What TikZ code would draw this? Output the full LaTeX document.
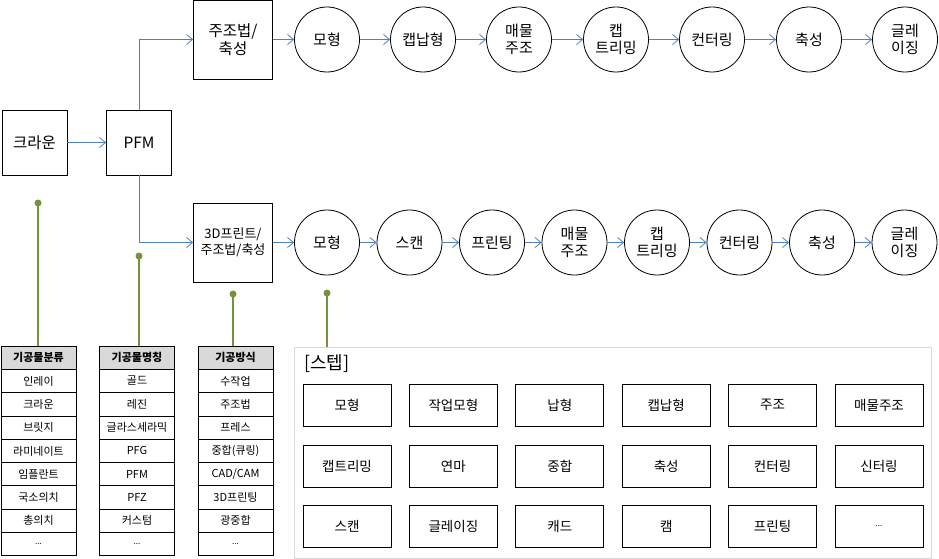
\documentclass[tikz,border=0pt]{standalone}
\usepackage{fontspec}
\setmainfont{Noto Sans CJK KR}
\usetikzlibrary{arrows.meta}

\definecolor{flowblue}{RGB}{79,129,189}
\definecolor{pingreen}{RGB}{118,146,60}
\definecolor{headgray}{RGB}{217,217,217}
\definecolor{framegray}{RGB}{217,217,217}
\newcommand{\etcdots}{{\footnotesize...}}

\begin{document}
\begin{tikzpicture}
    [
        x=1pt, y=-1pt,
        box/.style={draw, line width=0.8pt, minimum width=65pt, minimum height=65pt, inner sep=0pt, align=center, font=\fontsize{15.5}{18}\selectfont},
        stage/.style={box, minimum width=79pt, minimum height=79pt},
        vertex/.style={circle, draw, line width=0.8pt, minimum size=65pt, inner sep=0pt, align=center, font=\fontsize{15}{17.5}\selectfont},
        flow/.style={draw=flowblue, line width=0.8pt, -{Straight Barb[length=6pt,width=10pt]}},
        pin/.style={draw=pingreen, line width=1.8pt},
        dot/.style={circle, fill=pingreen, minimum size=7pt, inner sep=0pt},
        cell/.style={draw, line width=0.8pt, minimum width=75pt, minimum height=23.3pt, inner sep=0pt, font=\fontsize{11}{13}\selectfont},
        head/.style={cell, fill=headgray, font=\fontsize{11}{13}\selectfont\bfseries},
        stepbox/.style={draw, line width=0.8pt, minimum width=88pt, minimum height=42pt, inner sep=0pt, font=\fontsize{13.5}{16}\selectfont},
    ]
    \useasboundingbox (0,0) rectangle (939,559);

    % start
    \node (crown) at (34.5,142.5) [box] {크라운};
    \node (pfm)   at (139,142.5)  [box] {PFM};
    \node (cast)  at (233,39.5)   [stage] {주조법/\\축성};
    \node (print) at (233,242.5)  [stage, font=\fontsize{13}{16}\selectfont] {3D프린트/\\주조법/축성};

    \path [flow] (crown) -- (pfm);
    \path [flow] (pfm.north) |- (cast.west);
    \path [flow] (pfm.south) |- (print.west);

    % casting row
    \node (a1) at (327,39.5) [vertex] {모형};
    \node (a2) at (423,39.5) [vertex] {캡납형};
    \node (a3) at (519,39.5) [vertex] {매물\\주조};
    \node (a4) at (616,39.5) [vertex] {캡\\트리밍};
    \node (a5) at (712,39.5) [vertex] {컨터링};
    \node (a6) at (809,39.5) [vertex] {축성};
    \node (a7) at (905,39.5) [vertex] {글레\\이징};

    \path [flow]
    (cast) edge (a1)
    (a1) edge (a2)
    (a2) edge (a3)
    (a3) edge (a4)
    (a4) edge (a5)
    (a5) edge (a6)
    (a6) edge (a7);

    % printing row
    \node (b1) at (327,242.5)   [vertex] {모형};
    \node (b2) at (409.5,242.5) [vertex] {스캔};
    \node (b3) at (492,242.5)   [vertex] {프린팅};
    \node (b4) at (574.5,242.5) [vertex] {매물\\주조};
    \node (b5) at (657,242.5)   [vertex] {캡\\트리밍};
    \node (b6) at (739.5,242.5) [vertex] {컨터링};
    \node (b7) at (822,242.5)   [vertex] {축성};
    \node (b8) at (904.5,242.5) [vertex] {글레\\이징};

    \path [flow]
    (print) edge (b1)
    (b1) edge (b2)
    (b2) edge (b3)
    (b3) edge (b4)
    (b4) edge (b5)
    (b5) edge (b6)
    (b6) edge (b7)
    (b7) edge (b8);

    % tables
    \node (t1) at (38.5,357.7)  [head] {기공물분류};
    \node (t2) at (137,357.7)   [head] {기공물명칭};
    \node (t3) at (235.5,357.7) [head] {기공방식};
    \foreach \txt [count=\i] in {인레이,크라운,브릿지,라미네이트,임플란트,국소의치,총의치,\etcdots}
        \node (t1-\i) at (38.5,357.7+23.3*\i) [cell] {\txt};
    \foreach \txt [count=\i] in {골드,레진,글라스세라믹,PFG,PFM,PFZ,커스텀,\etcdots}
        \node (t2-\i) at (137,357.7+23.3*\i) [cell] {\txt};
    \foreach \txt [count=\i] in {수작업,주조법,프레스,중합(큐링),CAD/CAM,3D프린팅,광중합,\etcdots}
        \node (t3-\i) at (235.5,357.7+23.3*\i) [cell] {\txt};

    % steps
    \node (steps) at (612.5,452.5) [draw=framegray, line width=0.8pt, minimum width=637pt, minimum height=211pt] {};
    \node (stitle) at (304,364) [anchor=west, inner sep=0pt, font=\fontsize{18}{20}\selectfont] {[스텝]};
    \foreach \txt [count=\i from 0] in {모형,작업모형,납형,캡납형,주조,매물주조}
        \node (s1-\i) at (347+106.4*\i,405) [stepbox] {\txt};
    \foreach \txt [count=\i from 0] in {캡트리밍,연마,중합,축성,컨터링,신터링}
        \node (s2-\i) at (347+106.4*\i,466.5) [stepbox] {\txt};
    \foreach \txt [count=\i from 0] in {스캔,글레이징,캐드,캠,프린팅,\etcdots}
        \node (s3-\i) at (347+106.4*\i,526.5) [stepbox] {\txt};

    % pins
    \node (p1) at (38,203)  [dot] {};
    \node (p2) at (139,256) [dot] {};
    \node (p3) at (233,294) [dot] {};
    \node (p4) at (327,293) [dot] {};
    \path [pin] (p1.center) -- (p1 |- t1.north);
    \path [pin] (p2.center) -- (p2 |- t2.north);
    \path [pin] (p3.center) -- (p3 |- t3.north);
    \path [pin] (p4.center) -- (p4 |- steps.north);

\end{tikzpicture}
\end{document}
